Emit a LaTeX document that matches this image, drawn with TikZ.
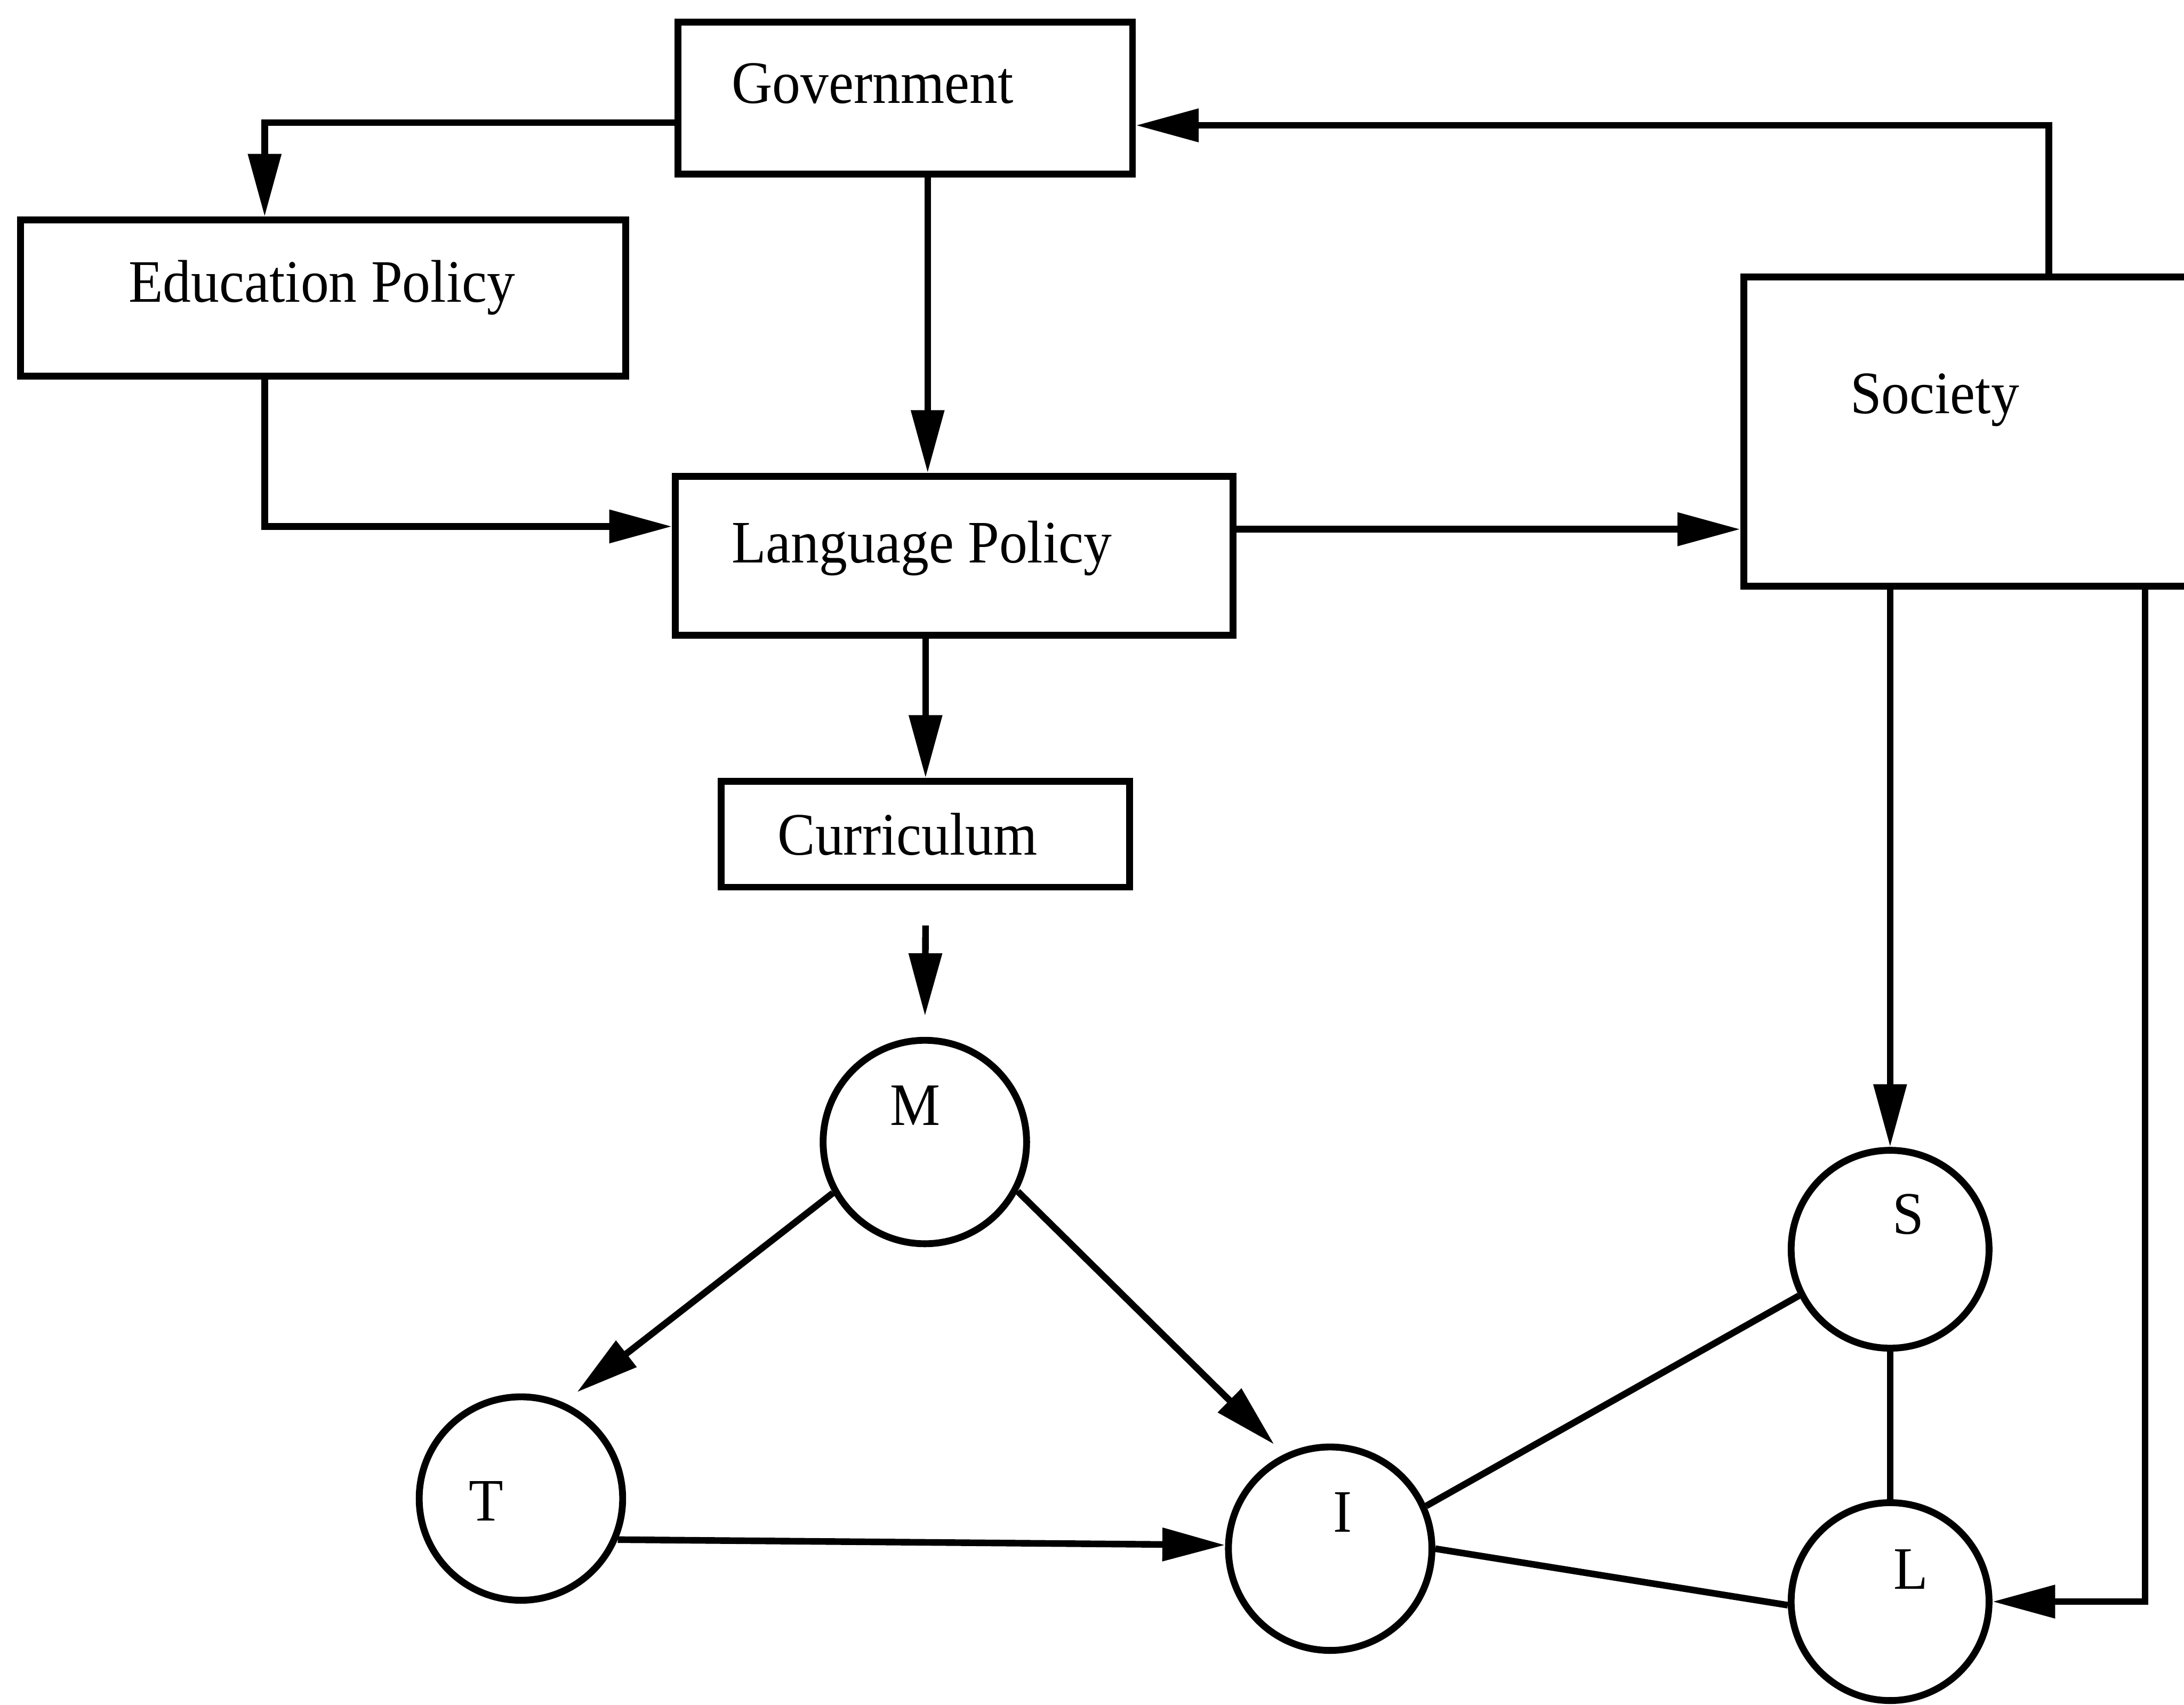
\documentclass[tikz,border=0pt]{standalone}
\usepackage{fontspec}
\setmainfont{Liberation Serif}
\usetikzlibrary{arrows.meta,calc}
\newcommand{\lbl}[1]{\scalebox{1}[1.07]{#1}}
\begin{document}
\begin{tikzpicture}[x=0.01cm,y=-0.01cm,
  line width=1.35pt,
  box/.style={draw, line width=1.4pt, rectangle, inner sep=0pt},
  circ/.style={draw, circle, line width=1.4pt, inner sep=0pt},
  txt/.style={inner sep=0pt, font=\fontsize{11.5}{13}\selectfont},
  arr/.style={-{Triangle[length=0.45cm,width=0.23cm]}}]
\clip (0,0) rectangle (1568,1224);
\fill[white] (0,0) rectangle (1568,1224);
% boxes
\node[box, minimum width=3.26cm, minimum height=1.09cm] (gov) at (650,70.5) {};
\node[box, minimum width=4.34cm, minimum height=1.12cm] (edu) at (232,214) {};
\node[box, minimum width=4.00cm, minimum height=1.14cm] (lang) at (685,399) {};
\node[box, minimum width=2.93cm, minimum height=0.76cm] (cur) at (664.5,599) {};
\node[box, minimum width=3.48cm, minimum height=2.22cm] (soc) at (1426,310) {};
% circles
\node[circ, minimum size=1.46cm] (m) at (664,820) {};
\node[circ, minimum size=1.46cm] (t) at (374,1076) {};
\node[circ, minimum size=1.46cm] (i) at (955,1112) {};
\node[circ, minimum size=1.42cm] (s) at (1357,897) {};
\node[circ, minimum size=1.42cm] (l) at (1357,1150) {};
% texts
\node[txt, anchor=base west] (govt) at (523,74) {\lbl{Government}};
\node[txt, anchor=base west] (edut) at (90,217) {\lbl{Education Policy}};
\node[txt, anchor=base west] (langt) at (523,404) {\lbl{Language Policy}};
\node[txt, anchor=base west] (curt) at (556,614) {\lbl{Curriculum}};
\node[txt, anchor=base west] (soct) at (1326,297) {\lbl{Society}};
\node[txt, anchor=base] (mt) at (657,808) {\lbl{M}};
\node[txt, anchor=base] (tt) at (349,1092) {\lbl{T}};
\node[txt, anchor=base] (itx) at (964,1100) {\lbl{I}};
\node[txt, anchor=base] (stx) at (1370,886) {\lbl{S}};
\node[txt, anchor=base] (ltx) at (1372,1141) {\lbl{L}};
% connectors
\draw[arr] ($(soc.north)+(45,0)$) |- ($(gov.east)+(0,19.5)$);
\draw[arr] ($(gov.west)+(0,17.5)$) -| ($(edu.north)+(-42,0)$);
\draw[arr] ($(gov.south)+(16,0)$) -- ($(lang.north)+(-19,0)$);
\draw[arr] ($(edu.south)+(-42,0)$) |- ($(lang.west)+(0,-21)$);
\draw[arr] ($(lang.east)+(0,-19)$) -- ($(soc.west)+(0,70)$);
\draw[arr] (lang.south -| cur.north) -- (cur.north);
\draw[arr, shorten >=0.15cm] ($(cur.south)+(0,25)$) -- (m.north);
\draw[arr, shorten >=0.12cm] (m.209) -- (t.66);
\draw[arr, shorten >=0.1cm] (m.332) -- (i.116);
\draw[arr] (t.337) -- (i.178);
\draw (i.24) -- (s.207);
\draw (i.0) -- (l.182);
\draw (s.south) -- (l.north);
\draw[arr] (s.north |- soc.south) -- (s.north);
\draw[arr] ($(soc.south)+(114,0)$) |- (l.east);
\end{tikzpicture}
\end{document}
